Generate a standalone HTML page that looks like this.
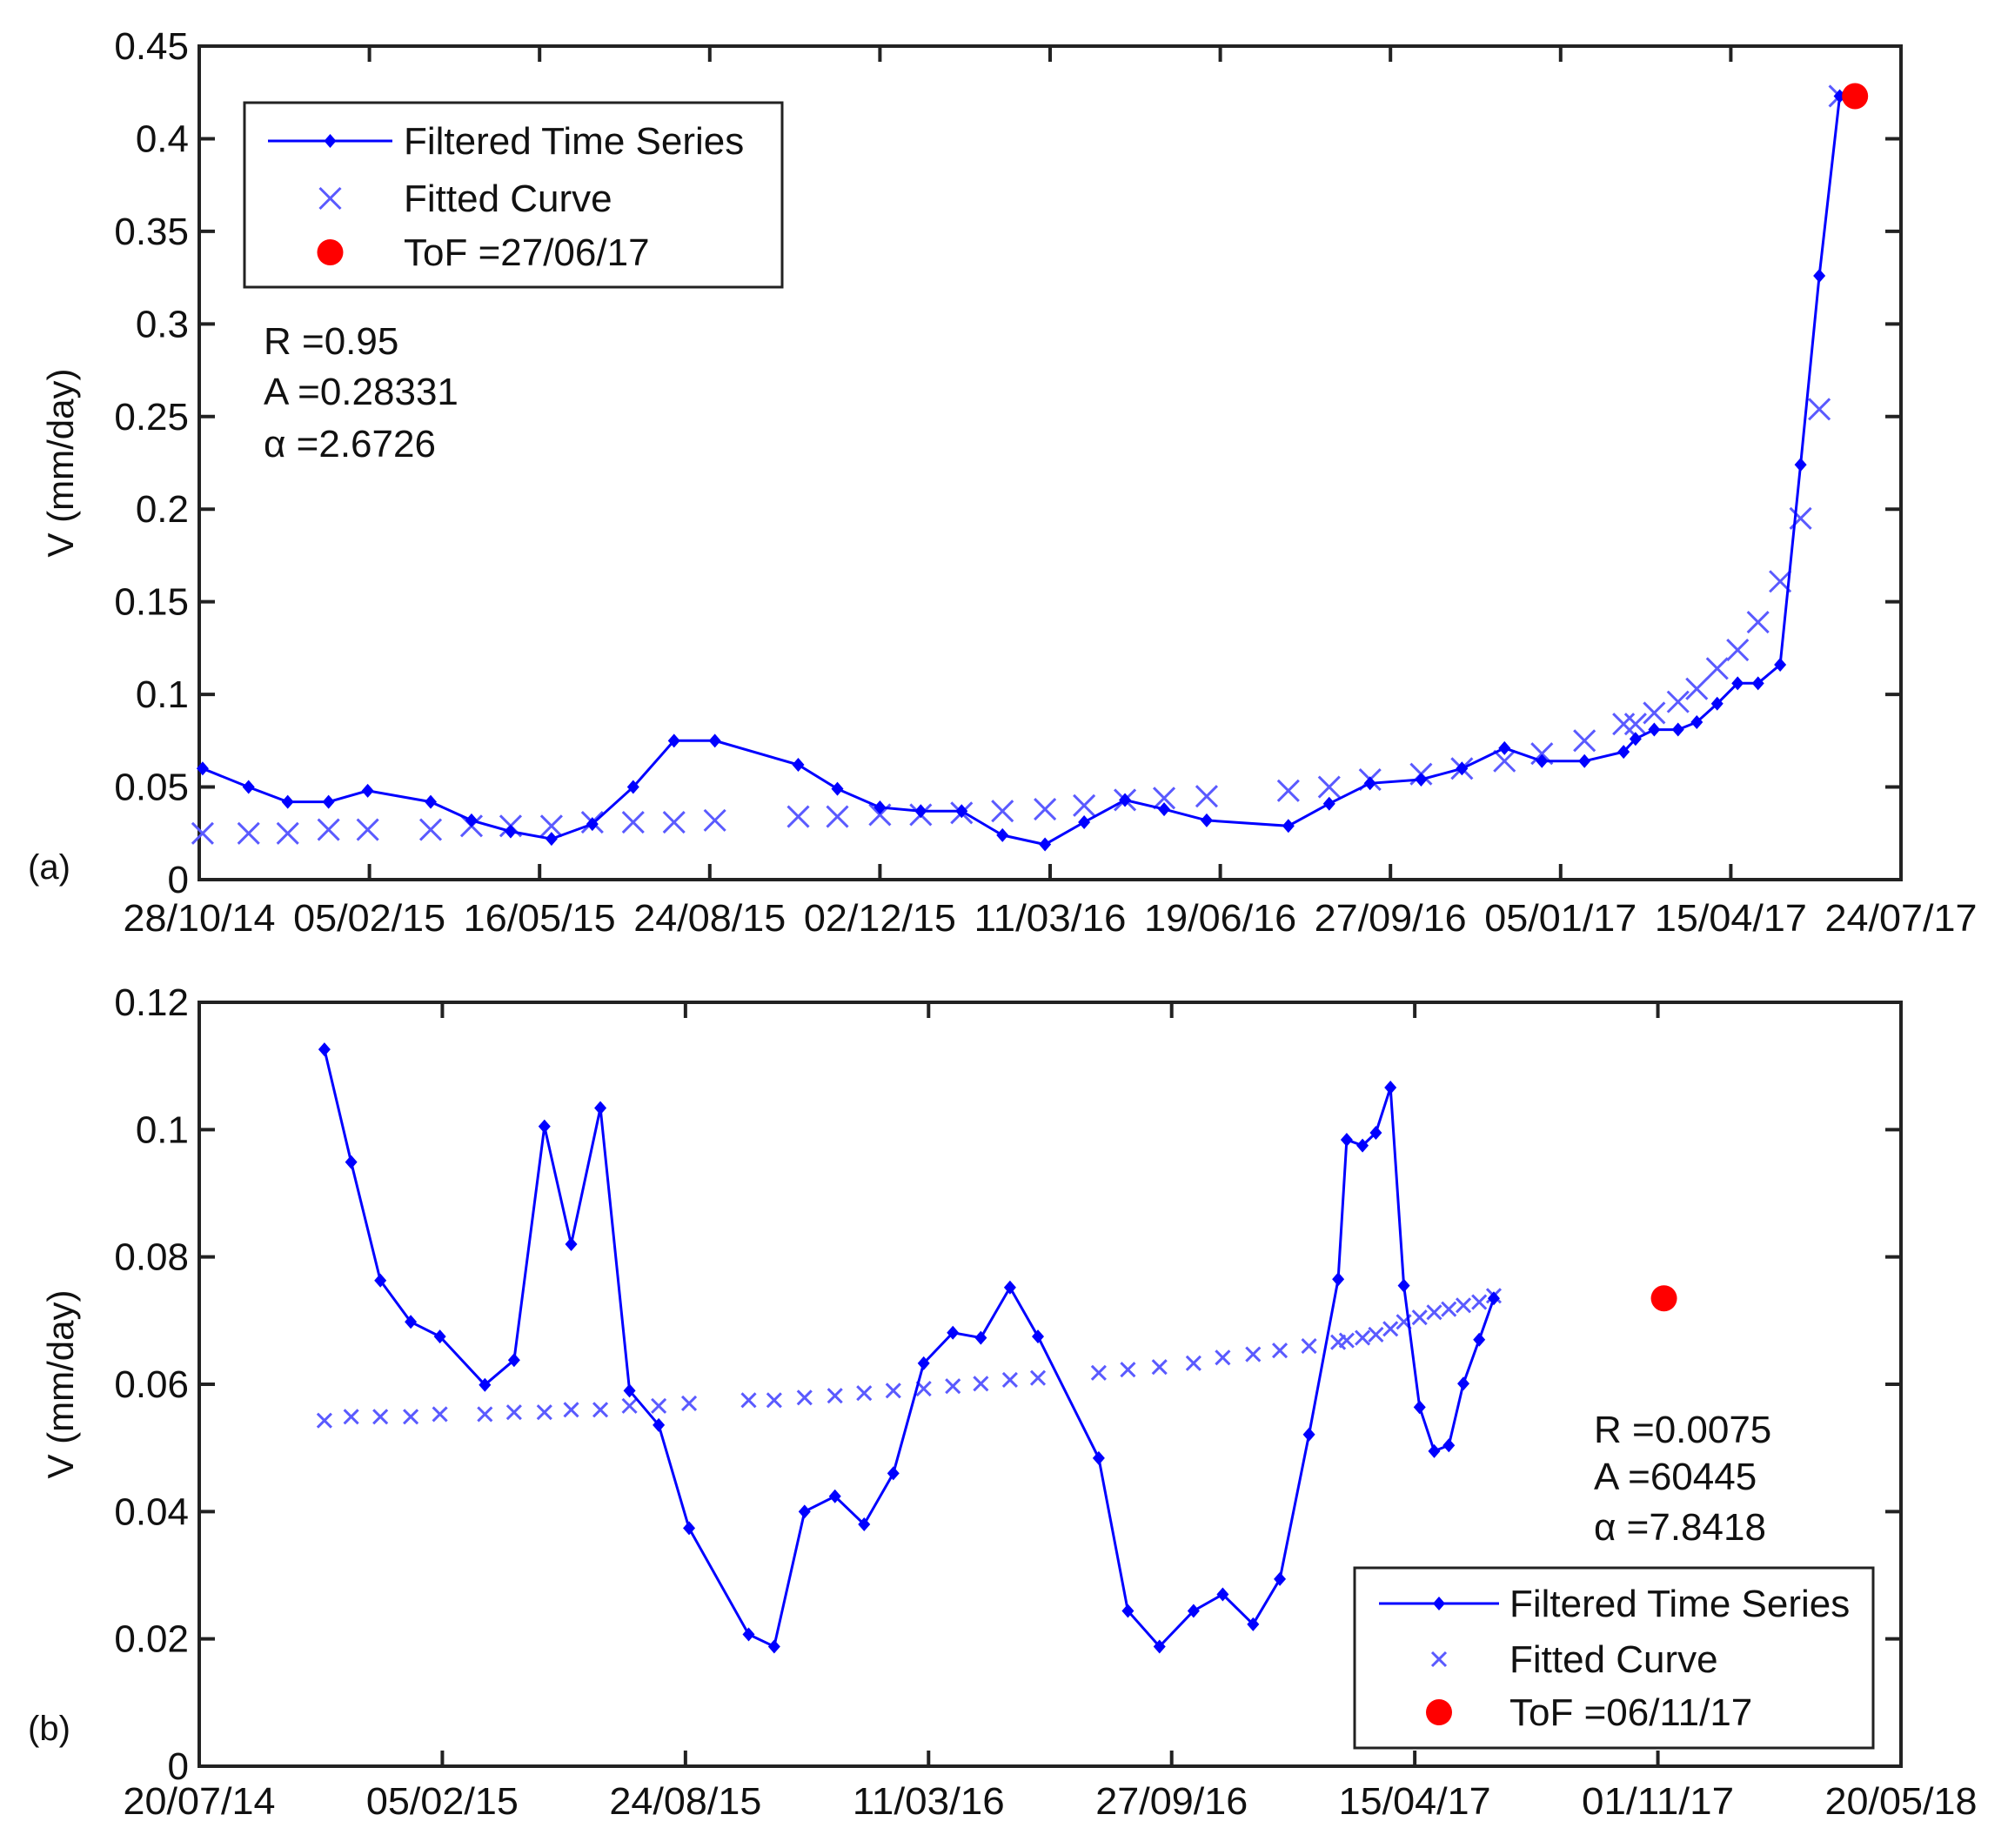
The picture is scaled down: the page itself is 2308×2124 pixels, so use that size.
<!DOCTYPE html>
<html><head><meta charset="utf-8">
<style>
html,body{margin:0;padding:0;background:#fff;}
svg{display:block;font-family:"Liberation Sans",sans-serif;}
</style></head>
<body>
<svg id="fig" width="2308" height="2124" viewBox="0 0 2308 2124" xmlns="http://www.w3.org/2000/svg"></svg>
<script>
// ---------- Panel (a) data (x = days since 28/10/14) ----------
const aTickLabels = ["28/10/14","05/02/15","16/05/15","24/08/15","02/12/15","11/03/16","19/06/16","27/09/16","05/01/17","15/04/17","24/07/17"];
const aYTicks = [0,0.05,0.1,0.15,0.2,0.25,0.3,0.35,0.4,0.45];
const aYTickLabels = ["0","0.05","0.1","0.15","0.2","0.25","0.3","0.35","0.4","0.45"];
const aDays = [2,29,52,76,99,136,160,183,207,231,255,279,303,352,375,400,424,448,472,497,520,544,567,592,640,664,688,718,742,767,789,814,837,844,855,869,880,892,904,916,929,941,952,964];
const aFiltered = [0.060,0.050,0.042,0.042,0.048,0.042,0.032,0.026,0.022,0.030,0.050,0.075,0.075,0.062,0.049,0.039,0.037,0.037,0.024,0.019,0.031,0.043,0.038,0.032,0.029,0.041,0.052,0.054,0.060,0.071,0.064,0.064,0.069,0.076,0.081,0.081,0.085,0.095,0.106,0.106,0.116,0.224,0.326,0.423];
const aFitted = [0.025,0.025,0.025,0.027,0.027,0.027,0.029,0.029,0.029,0.031,0.031,0.031,0.032,0.034,0.034,0.035,0.035,0.036,0.037,0.038,0.040,0.043,0.044,0.045,0.048,0.050,0.054,0.057,0.060,0.064,0.068,0.075,0.084,0.084,0.090,0.096,0.103,0.114,0.124,0.139,0.161,0.195,0.254,0.423];
const aToF = [973, 0.423];

// ---------- Panel (b) data (x = days since 20/07/14) ----------
const bTickLabels = ["20/07/14","05/02/15","24/08/15","11/03/16","27/09/16","15/04/17","01/11/17","20/05/18"];
const bYTicks = [0,0.02,0.04,0.06,0.08,0.1,0.12];
const bYTickLabels = ["0","0.02","0.04","0.06","0.08","0.1","0.12"];
const bDays = [103,125,149,174,198,235,259,284,306,330,354,378,403,452,473,498,523,547,571,596,620,643,667,690,740,764,790,818,842,867,889,913,937,944,957,968,980,991,1004,1016,1028,1040,1053,1065];
const bFiltered = [0.1126,0.0949,0.0763,0.0698,0.0675,0.0599,0.0638,0.1005,0.0820,0.1034,0.0590,0.0536,0.0374,0.0207,0.0188,0.0400,0.0424,0.0380,0.0460,0.0633,0.0681,0.0673,0.0752,0.0675,0.0484,0.0244,0.0188,0.0244,0.0270,0.0223,0.0294,0.0521,0.0765,0.0984,0.0975,0.0995,0.1066,0.0755,0.0564,0.0495,0.0504,0.0601,0.0670,0.0735];
const bFitted = [0.0543,0.0549,0.0549,0.0549,0.0553,0.0553,0.0556,0.0556,0.0560,0.0560,0.0566,0.0566,0.0570,0.0575,0.0575,0.0579,0.0582,0.0586,0.0590,0.0593,0.0597,0.0601,0.0607,0.0610,0.0618,0.0623,0.0627,0.0633,0.0642,0.0647,0.0653,0.0660,0.0666,0.0669,0.0673,0.0678,0.0687,0.0698,0.0705,0.0713,0.0718,0.0724,0.0729,0.0739];
const bToF = [1205, 0.0735];

const NS = "http://www.w3.org/2000/svg";
const svg = document.getElementById("fig");
function mk(tag, attrs, parent){
  const e = document.createElementNS(NS, tag);
  for (const k in attrs) e.setAttribute(k, attrs[k]);
  (parent||svg).appendChild(e);
  return e;
}
const BLUE = "#0000ff", XBLUE = "#5a5aff";

function panel(cfg){
  const g = mk("g", {});
  
  
  const L=cfg.left,R=cfg.right,T=cfg.top,B=cfg.bottom;
  const xs = d => L + (d - cfg.x0) / (cfg.x1 - cfg.x0) * (R - L);
  const ys = v => B - (v - cfg.y0) / (cfg.y1 - cfg.y0) * (B - T);
  // frame
  const fr = mk("rect", {x:L,y:T,width:R-L,height:B-T,fill:"none",stroke:"#222","stroke-width":4}, g);
  
  
  // x ticks
  cfg.xLabels.forEach((lab,i)=>{
    const d = cfg.x0 + i*cfg.xStep;
    const x = xs(d);
    mk("line",{x1:x,y1:B,x2:x,y2:B-18,stroke:"#222","stroke-width":4},g);
    mk("line",{x1:x,y1:T,x2:x,y2:T+18,stroke:"#222","stroke-width":4},g);
    const t = mk("text",{x:x,y:cfg.xLabelY,"text-anchor":"middle","font-size":44,fill:"#111","textLength":175,"lengthAdjust":"spacingAndGlyphs"},g);
    t.textContent = lab;
    
    
  });
  // y ticks
  cfg.yTicks.forEach((v,i)=>{
    const y = ys(v);
    mk("line",{x1:L,y1:y,x2:L+18,y2:y,stroke:"#222","stroke-width":4},g);
    mk("line",{x1:R,y1:y,x2:R-18,y2:y,stroke:"#222","stroke-width":4},g);
    const t = mk("text",{x:L-12,y:y+15,"text-anchor":"end","font-size":44,fill:"#111"},g);
    t.textContent = cfg.yLabels[i];
    
    
  });
  // y axis title
  const yt = mk("text",{x:0,y:0,"text-anchor":"middle","font-size":42,fill:"#111",transform:`translate(84,${(T+B)/2}) rotate(-90)`},g);
  yt.textContent = "V (mm/day)";
  
  
  // panel label
  const pl = mk("text",{x:32,y:cfg.panelLabelY,"font-size":40,fill:"#111"},g);
  pl.textContent = cfg.panelLabel;
  
  
  // fitted crosses
  const cs = cfg.crossSize;
  cfg.days.forEach((d,i)=>{
    const x = xs(d), y = ys(cfg.fitted[i]);
    const p = mk("path",{d:`M${x-cs} ${y-cs}L${x+cs} ${y+cs}M${x-cs} ${y+cs}L${x+cs} ${y-cs}`,stroke:XBLUE,"stroke-width":3,fill:"none"},g);
    
    
  });
  // filtered line
  const pts = cfg.days.map((d,i)=>xs(d).toFixed(1)+","+ys(cfg.filtered[i]).toFixed(1)).join(" ");
  const pln = mk("polyline",{points:pts,fill:"none",stroke:BLUE,"stroke-width":3},g);
  
  
  cfg.days.forEach((d,i)=>{
    const x = xs(d), y = ys(cfg.filtered[i]);
    const m = mk("path",{d:`M${x} ${y-8}L${x+7} ${y}L${x} ${y+8}L${x-7} ${y}Z`,fill:BLUE},g);
    
    
  });
  // ToF
  const tf = mk("circle",{cx:xs(cfg.tof[0]),cy:ys(cfg.tof[1]),r:15,fill:"#ff0000"},g);
  
  
  // stats
  cfg.stats.forEach((s,i)=>{
    const t = mk("text",{x:cfg.statsX,y:cfg.statsY[i],"font-size":44,fill:"#111"},g);
    t.textContent = s;
    
    
  });
  // legend
  const lg = mk("g",{},g);
  
  
  const lb = cfg.legend;
  mk("rect",{x:lb.x,y:lb.y,width:lb.w,height:lb.h,fill:"#fff",stroke:"#222","stroke-width":3},lg);
  const mx = (lb.l1+lb.l2)/2;
  // entry 1
  const e1 = mk("g",{},lg);
  
  
  mk("line",{x1:lb.l1,y1:lb.rows[0],x2:lb.l2,y2:lb.rows[0],stroke:BLUE,"stroke-width":3},e1);
  mk("path",{d:`M${mx} ${lb.rows[0]-8}L${mx+7} ${lb.rows[0]}L${mx} ${lb.rows[0]+8}L${mx-7} ${lb.rows[0]}Z`,fill:BLUE},e1);
  const e2 = mk("g",{},lg);
  
  
  mk("path",{d:`M${mx-cs} ${lb.rows[1]-cs}L${mx+cs} ${lb.rows[1]+cs}M${mx-cs} ${lb.rows[1]+cs}L${mx+cs} ${lb.rows[1]-cs}`,stroke:XBLUE,"stroke-width":3},e2);
  const e3 = mk("g",{},lg);
  
  
  mk("circle",{cx:mx,cy:lb.rows[2],r:15,fill:"#ff0000"},e3);
  [["Filtered Time Series",e1],["Fitted Curve",e2],["ToF ="+cfg.tofLabel,e3]].forEach((o,i)=>{
    const t = mk("text",{x:lb.tx,y:lb.rows[i]+15,"font-size":44,fill:"#111"},o[1]);
    t.textContent = o[0];
  });
}

panel({name:"panel-a-chart",left:229,right:2185,top:53,bottom:1011,x0:0,x1:1000,xStep:100,y0:0,y1:0.45,
  xLabels:aTickLabels,yTicks:aYTicks,yLabels:aYTickLabels,xLabelY:1070,panelLabel:"(a)",panelLabelY:1010,
  days:aDays,filtered:aFiltered,fitted:aFitted,tof:aToF,tofLabel:"27/06/17",crossSize:12,
  stats:["R =0.95","A =0.28331","\u03B1 =2.6727".replace("7\u0000","")].map((s,i)=>i==2?"\u03B1 =2.6726":s),
  statsX:303,statsY:[407,465,525],
  legend:{x:281,y:118,w:618,h:212,l1:308,l2:451,tx:464,rows:[162,228,290]}});

panel({name:"panel-b-chart",left:229,right:2185,top:1152,bottom:2030,x0:0,x1:1400,xStep:200,y0:0,y1:0.12,
  xLabels:bTickLabels,yTicks:bYTicks,yLabels:bYTickLabels,xLabelY:2085,panelLabel:"(b)",panelLabelY:2000,
  days:bDays,filtered:bFiltered,fitted:bFitted,tof:bToF,tofLabel:"06/11/17",crossSize:8,
  stats:["R =0.0075","A =60445","\u03B1 =7.8418"],
  statsX:1832,statsY:[1658,1712,1770],
  legend:{x:1557,y:1802,w:596,h:207,l1:1585,l2:1723,tx:1735,rows:[1843,1907,1968]}});
</script>
</body></html>
